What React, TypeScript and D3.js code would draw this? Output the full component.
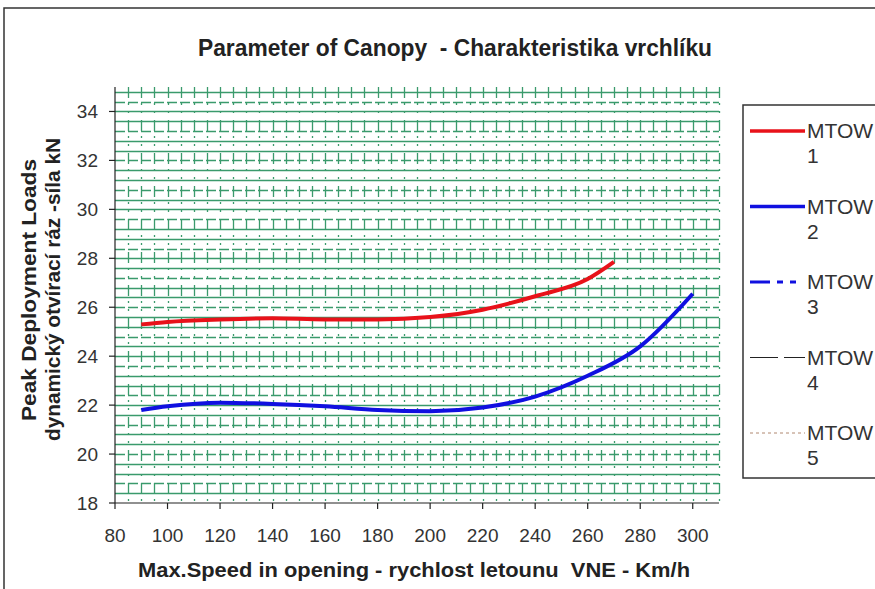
import { useEffect, useRef } from "react";
import * as d3 from "d3";

const speeds1 = [90, 100, 120, 140, 160, 180, 200, 220, 240, 260, 270];
const loads1 = [25.3, 25.4, 25.5, 25.55, 25.5, 25.5, 25.6, 25.9, 26.45, 27.15, 27.85];
const speeds2 = [90, 100, 120, 140, 160, 180, 200, 220, 240, 260, 280, 300];
const loads2 = [21.8, 21.95, 22.1, 22.05, 21.95, 21.8, 21.75, 21.9, 22.35, 23.2, 24.4, 26.55];
const xTicks = [80, 100, 120, 140, 160, 180, 200, 220, 240, 260, 280, 300];
const yTicks = [18, 20, 22, 24, 26, 28, 30, 32, 34];
const legendNames = ["MTOW 1", "MTOW 2", "MTOW 3", "MTOW 4", "MTOW 5"];
const legendColors = ["#e8121a", "#1010e0", "#1010e0", "#222", "#b08870"];
const legendDash = ["", "", "20 7 6 7 6 9", "28 6", "3 3"];
const legendWidth = [3.5, 3.5, 3, 1, 1];

const App = () => {
  const ref = useRef<SVGSVGElement>(null);

  useEffect(() => {
    const svg = d3.select(ref.current);
    svg.selectAll("*").remove();
    const font = "'Liberation Sans', Arial, sans-serif";

    const x = d3.scaleLinear().domain([80, 310]).range([115, 719]);
    const y = d3.scaleLinear().domain([18, 35]).range([503, 87]);

    // frame
    svg.append("rect").attr("x", 4).attr("y", 8).attr("width", 900).attr("height", 600)
      .attr("fill", "#fff").attr("stroke", "#333").attr("stroke-width", 1.5);

    // grid (Excel style hatch: dense horizontal lines, vertical lines in bands)
    const grid = svg.append("g").attr("stroke", "#3a9a6c").attr("stroke-width", 1.3);
    const hLines = d3.range(18.4, 35.01, 0.4);
    grid.selectAll("line.h").data(hLines).enter().append("line")
      .attr("x1", x(80)).attr("x2", x(310))
      .attr("y1", (d) => Math.round(y(d)) + 0.5).attr("y2", (d) => Math.round(y(d)) + 0.5)
      .attr("stroke-dasharray", (d, i) => (i % 3 === 1 ? "10 3" : null));
    const vLines = d3.range(85, 310.1, 5);
    grid.selectAll("line.v").data(vLines).enter().append("line")
      .attr("x1", (d) => Math.round(x(d)) + 0.5).attr("x2", (d) => Math.round(x(d)) + 0.5)
      .attr("y1", y(35)).attr("y2", y(18))
      .attr("stroke-dasharray", "11 5 2 6 2 7");

    // axes
    const axes = svg.append("g").attr("stroke", "#222").attr("stroke-width", 1.2);
    axes.append("line").attr("x1", x(80)).attr("x2", x(80)).attr("y1", y(35)).attr("y2", y(18));
    axes.append("line").attr("x1", x(80)).attr("x2", x(310)).attr("y1", y(18)).attr("y2", y(18));
    axes.selectAll("line.yt").data(yTicks).enter().append("line")
      .attr("x1", x(80) - 6).attr("x2", x(80)).attr("y1", (d) => y(d)).attr("y2", (d) => y(d));
    axes.selectAll("line.xt").data(xTicks).enter().append("line")
      .attr("x1", (d) => x(d)).attr("x2", (d) => x(d)).attr("y1", y(18)).attr("y2", y(18) + 6);

    svg.append("g").selectAll("text").data(yTicks).enter().append("text")
      .attr("x", x(80) - 17).attr("y", (d) => y(d) + 7).attr("text-anchor", "end")
      .style("font-family", font).style("font-size", "19px").style("fill", "#333")
      .text((d) => d);
    svg.append("g").selectAll("text").data(xTicks).enter().append("text")
      .attr("x", (d) => x(d)).attr("y", y(18) + 39).attr("text-anchor", "middle")
      .style("font-family", font).style("font-size", "19px").style("fill", "#333")
      .text((d) => d);

    // series
    const line = d3.line<[number, number]>().x((d) => x(d[0])).y((d) => y(d[1])).curve(d3.curveMonotoneX);
    svg.append("path").attr("d", line(speeds1.map((s, i) => [s, loads1[i]])))
      .attr("fill", "none").attr("stroke", legendColors[0]).attr("stroke-width", 4);
    svg.append("path").attr("d", line(speeds2.map((s, i) => [s, loads2[i]])))
      .attr("fill", "none").attr("stroke", legendColors[1]).attr("stroke-width", 4);

    // titles
    svg.append("text").attr("x", 198).attr("y", 56)
      .attr("textLength", 514).attr("lengthAdjust", "spacingAndGlyphs")
      .style("white-space", "pre")
      .style("font-family", font).style("font-size", "23px").style("font-weight", "700")
      .style("fill", "#222").text("Parameter of Canopy  - Charakteristika vrchlíku");
    svg.append("text").attr("x", 138).attr("y", 577)
      .attr("textLength", 552).attr("lengthAdjust", "spacingAndGlyphs")
      .style("white-space", "pre")
      .style("font-family", font).style("font-size", "20px").style("font-weight", "700")
      .style("fill", "#222").text("Max.Speed in opening - rychlost letounu  VNE - Km/h");
    const yl = svg.append("g").attr("transform", "translate(0,290) rotate(-90)")
      .style("font-family", font).style("font-size", "21px").style("font-weight", "700")
      .style("fill", "#222");
    yl.append("text").attr("x", -131).attr("y", 36)
      .attr("textLength", 262).attr("lengthAdjust", "spacingAndGlyphs")
      .text("Peak Deployment Loads");
    yl.append("text").attr("x", -151).attr("y", 60)
      .attr("textLength", 303).attr("lengthAdjust", "spacingAndGlyphs")
      .text("dynamický otvírací ráz -síla kN");

    // legend
    svg.append("rect").attr("x", 743).attr("y", 105).attr("width", 200).attr("height", 373)
      .attr("fill", "#fff").attr("stroke", "#333").attr("stroke-width", 1.5);
    const leg = svg.append("g").selectAll("g").data(legendNames).enter().append("g")
      .attr("transform", (d, i) => `translate(0,${131 + i * 75.5})`);
    leg.append("line").attr("x1", 750).attr("x2", 805).attr("y1", 0).attr("y2", 0)
      .attr("stroke", (d, i) => legendColors[i])
      .attr("stroke-width", (d, i) => legendWidth[i])
      .attr("stroke-dasharray", (d, i) => legendDash[i] || null);
    const lt = leg.append("text").style("font-family", font).style("font-size", "21px").style("fill", "#333");
    lt.append("tspan").attr("x", 807).attr("y", 7).text((d) => d.split(" ")[0]);
    lt.append("tspan").attr("x", 807).attr("y", 32).text((d) => d.split(" ")[1]);
  }, []);

  return <svg ref={ref} width={875} height={589} style={{ position: "absolute", left: 0, top: 0 }} />;
};

export default App;
